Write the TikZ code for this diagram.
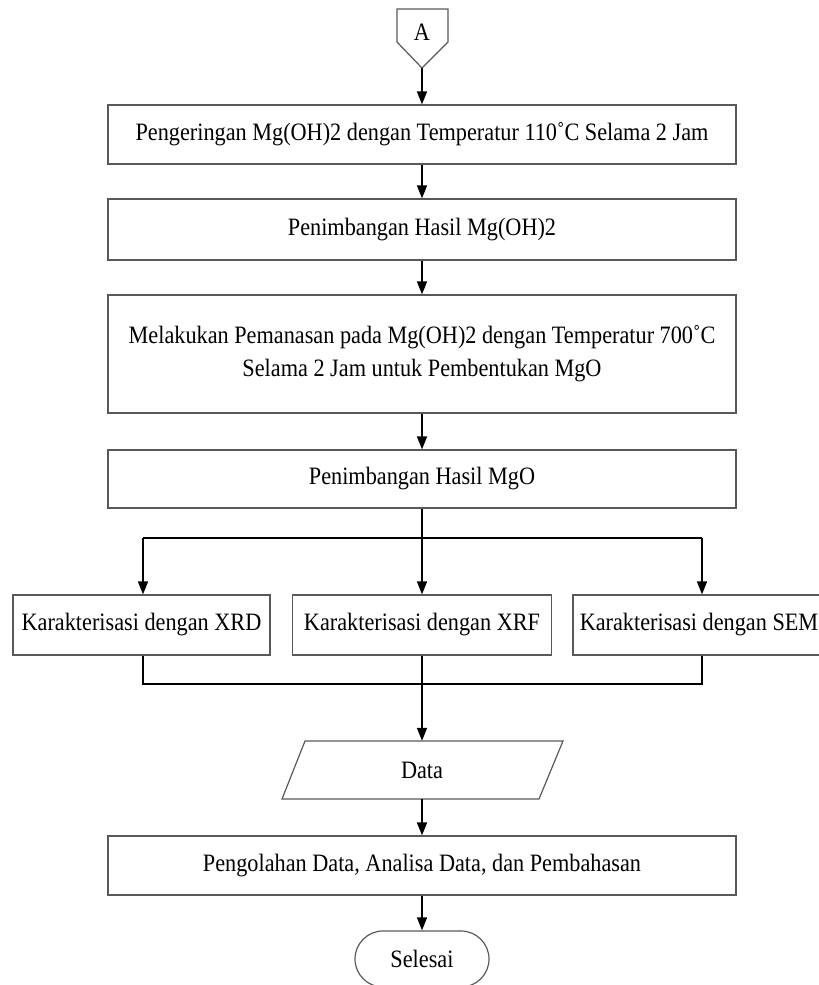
\documentclass[tikz,border=0pt]{standalone}
\usepackage{fontspec}
\setmainfont[FakeStretch=0.89]{Liberation Serif}
\usetikzlibrary{arrows.meta}
\tikzset{
  boxstyle/.style={draw=black!65, line width=1.2pt, rectangle, inner sep=0pt, font=\fontsize{25}{33}\selectfont, align=center},
  plain/.style={inner sep=0pt, font=\fontsize{25}{33}\selectfont},
  flow/.style={line width=1.6pt, -{Triangle[length=13pt,width=10pt]}},
  link/.style={line width=1.6pt},
  shapeline/.style={draw=black!65, line width=1.2pt}
}
\begin{document}
\begin{tikzpicture}[x=1pt,y=-1pt]
\useasboundingbox (0,0) rectangle (819,985);
% off-page connector A
\draw[shapeline] (397,9) -- (448,9) -- (448,42) -- (422,68) -- (397,42) -- cycle;
\node[plain] (A) at (422,32) {A};
\coordinate (Atip) at (422,68);
% process boxes
\node[boxstyle, minimum width=628pt, minimum height=59pt] (b1) at (422,134.5) {Pengeringan Mg(OH)2 dengan Temperatur 110˚C Selama 2 Jam};
\node[boxstyle, minimum width=628pt, minimum height=61pt] (b2) at (422,229.5) {Penimbangan Hasil Mg(OH)2};
\node[boxstyle, minimum width=628pt, minimum height=118pt] (b3) at (422,354) {Melakukan Pemanasan pada Mg(OH)2 dengan Temperatur 700˚C\\Selama 2 Jam untuk Pembentukan MgO};
\node[boxstyle, minimum width=628pt, minimum height=58pt] (b4) at (422,479) {Penimbangan Hasil MgO};
% characterisation boxes
\node[boxstyle, minimum width=257pt, minimum height=60pt] (xrd) at (141.5,625) {Karakterisasi dengan XRD};
\node[boxstyle, minimum width=259pt, minimum height=60pt] (xrf) at (422,625) {Karakterisasi dengan XRF};
\node[boxstyle, minimum width=252pt, minimum height=60pt] (sem) at (699,625) {Karakterisasi dengan SEM};
% data parallelogram
\draw[shapeline] (282,799) -- (305,741) -- (563,741) -- (539,799) -- cycle;
\node[plain, minimum width=230pt, minimum height=58pt] (data) at (422,770) {Data};
% final box
\node[boxstyle, minimum width=628pt, minimum height=59pt] (b5) at (422,865.5) {Pengolahan Data, Analisa Data, dan Pembahasan};
% terminator
\node[boxstyle, minimum width=134pt, minimum height=56pt, rounded corners=28pt] (sel) at (422,959) {Selesai};
% connectors
\coordinate (split) at (422,538);
\coordinate (splitL) at (143,538);
\coordinate (splitR) at (702,538);
\coordinate (join) at (422,684);
\coordinate (joinL) at (143,684);
\coordinate (joinR) at (702,684);
\draw[flow] (Atip) -- (b1.north);
\draw[flow] (b1.south) -- (b2.north);
\draw[flow] (b2.south) -- (b3.north);
\draw[flow] (b3.south) -- (b4.north);
\draw[link] (b4.south) -- (split);
\draw[link] (splitL) -- (splitR);
\draw[flow] (splitL) -- (splitL |- xrd.north);
\draw[flow] (split) -- (xrf.north);
\draw[flow] (splitR) -- (splitR |- sem.north);
\draw[link] (xrd.south -| joinL) -- (joinL) -- (joinR) -- (sem.south -| joinR);
\draw[link] (xrf.south) -- (join);
\draw[flow] (join) -- (data.north);
\draw[flow] (data.south) -- (b5.north);
\draw[flow] (b5.south) -- (sel.north);
\end{tikzpicture}
\end{document}
